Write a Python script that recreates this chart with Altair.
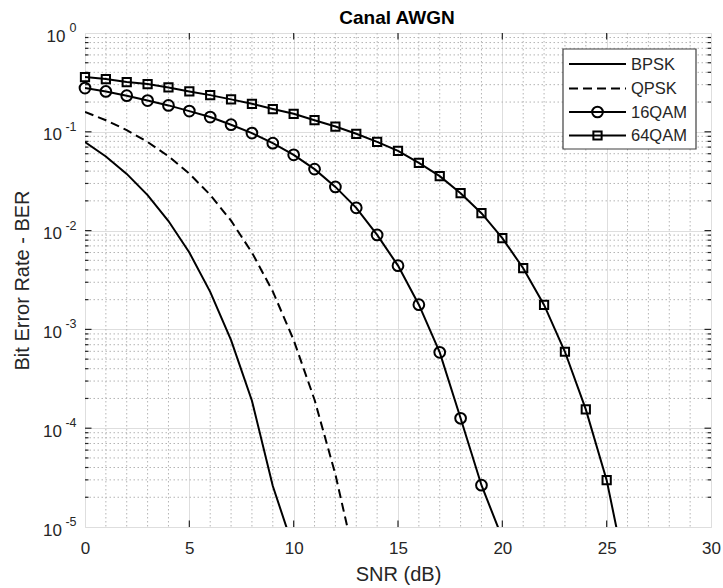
import altair as alt
import pandas as pd

# ---------------- data ----------------
snr_bpsk = [0, 1, 2, 3, 4, 5, 6, 7, 8, 9, 10]
ber_bpsk = [0.0786, 0.0563, 0.0375, 0.0229, 0.0125, 0.0060, 0.0024, 7.8e-4, 1.9e-4, 2.6e-5, 6.0e-6]

snr_qpsk = [0, 1, 2, 3, 4, 5, 6, 7, 8, 9, 10, 11, 12, 13]
ber_qpsk = [0.1587, 0.131, 0.104, 0.0789, 0.0565, 0.0377, 0.0230, 0.0126, 0.0060,
            0.00242, 7.8e-4, 1.94e-4, 3.4e-5, 4.0e-6]

snr_16qam = list(range(0, 21))
ber_16qam = [0.277, 0.256, 0.232, 0.207, 0.185, 0.162, 0.141, 0.118, 0.097, 0.0768,
             0.0585, 0.0419, 0.0277, 0.0170, 0.00904, 0.00442, 0.00178, 5.86e-4,
             1.26e-4, 2.65e-5, 7.7e-6]

snr_64qam = list(range(0, 27))
ber_64qam = [0.358, 0.342, 0.319, 0.304, 0.281, 0.256, 0.235, 0.213, 0.192, 0.170,
             0.152, 0.131, 0.113, 0.0955, 0.0792, 0.0642, 0.0485, 0.0356, 0.0239,
             0.0150, 0.00838, 0.00416, 0.00177, 5.94e-4, 1.55e-4, 2.98e-5, 2.8e-6]

series_labels = ["BPSK", "QPSK", "16QAM", "64QAM"]
title_text = "Canal AWGN"

x_major = [0, 5, 10, 15, 20, 25, 30]
x_minor = [1, 2, 3, 4, 6, 7, 8, 9, 11, 12, 13, 14, 16, 17, 18, 19,
           21, 22, 23, 24, 26, 27, 28, 29]
y_major = [1e-5, 1e-4, 1e-3, 1e-2, 1e-1, 1]
y_exp = ["-5", "-4", "-3", "-2", "-1", "0"]
y_minor = [m * d for d in [1e-5, 1e-4, 1e-3, 1e-2, 1e-1] for m in range(2, 10)]

# ---------------- layout / style ----------------
W, H = 626, 494
FONT = "Liberation Sans"
INK = "#262626"

xscale = alt.Scale(domain=[0, 30], nice=False, zero=False)
yscale = alt.Scale(type="log", domain=[1e-5, 1], nice=False)

x_axis = alt.Axis(values=x_major, title="SNR (dB)", grid=True, gridColor="#dedede",
                  gridWidth=1, ticks=False, domain=False, labelPadding=13,
                  labelFontSize=17, labelFont=FONT, labelColor=INK,
                  titleFontSize=20, titleFont=FONT, titleFontWeight="normal",
                  titleColor=INK, titlePadding=8, labelFlush=False)
y_axis = alt.Axis(values=y_major, title="Bit Error Rate - BER", grid=True,
                  gridColor="#dedede", gridWidth=1, ticks=False, domain=False,
                  labels=False, titleFontSize=20, titleFont=FONT,
                  titleFontWeight="normal", titleColor=INK, titlePadding=53)

X = alt.X("snr:Q", scale=xscale, axis=x_axis)
Y = alt.Y("ber:Q", scale=yscale, axis=y_axis)

layers = []

# minor grid
layers.append(alt.Chart(pd.DataFrame({"snr": x_minor})).mark_rule(
    color="#b4b4b4", strokeWidth=1, strokeDash=[1.5, 2.5]).encode(x=X))
layers.append(alt.Chart(pd.DataFrame({"ber": y_minor})).mark_rule(
    color="#b4b4b4", strokeWidth=1, strokeDash=[1.5, 2.5]).encode(y=Y))

# inward ticks (MATLAB style)
xt = pd.DataFrame({"snr": x_major[1:-1]})
layers.append(alt.Chart(xt).mark_rule(color=INK, strokeWidth=1.2).encode(
    x=X, y=alt.value(H), y2=alt.value(H - 6.5)))
layers.append(alt.Chart(xt).mark_rule(color=INK, strokeWidth=1.2).encode(
    x=X, y=alt.value(0), y2=alt.value(6.5)))
yt = pd.DataFrame({"ber": y_major[1:-1]})
ytm = pd.DataFrame({"ber": y_minor})
for df, ln in [(yt, 6.5), (ytm, 3.5)]:
    layers.append(alt.Chart(df).mark_rule(color=INK, strokeWidth=1.2).encode(
        y=Y, x=alt.value(0), x2=alt.value(ln)))
    layers.append(alt.Chart(df).mark_rule(color=INK, strokeWidth=1.2).encode(
        y=Y, x=alt.value(W), x2=alt.value(W - ln)))

# y tick labels as 10 with superscript exponent
ylab = pd.DataFrame({"ber": y_major, "exp": y_exp})
ylab_neg = ylab[ylab["exp"] != "0"]
ylab_zero = ylab[ylab["exp"] == "0"]
layers.append(alt.Chart(ylab_neg).mark_text(align="right", baseline="middle", font=FONT,
                                            fontSize=17, color=INK, dy=3.5).encode(
    y=Y, x=alt.value(-23), text=alt.value("10")))
layers.append(alt.Chart(ylab_zero).mark_text(align="right", baseline="middle", font=FONT,
                                             fontSize=17, color=INK, dy=3.5).encode(
    y=Y, x=alt.value(-19.5), text=alt.value("10")))
layers.append(alt.Chart(ylab).mark_text(align="right", baseline="middle", font=FONT,
                                        fontSize=12.5, color=INK, dy=-5).encode(
    y=Y, x=alt.value(-8.5), text="exp:N"))

# data lines
def line(xs, ys, **kw):
    df = pd.DataFrame({"snr": xs, "ber": ys})
    return alt.Chart(df).mark_line(color="black", strokeWidth=2, clip=True, **kw).encode(
        x=X, y=Y, order="snr:Q")

def pts(xs, ys, shape, size):
    df = pd.DataFrame({"snr": xs, "ber": ys})
    return alt.Chart(df).transform_filter("datum.ber >= 1e-5").mark_point(
        shape=shape, size=size, filled=False, color="black",
        strokeWidth=2, opacity=1, clip=False).encode(x=X, y=Y)

layers.append(line(snr_bpsk, ber_bpsk))
layers.append(line(snr_qpsk, ber_qpsk, strokeDash=[9, 5]))
layers.append(line(snr_16qam, ber_16qam))
layers.append(pts(snr_16qam, ber_16qam, "circle", 115))
layers.append(line(snr_64qam, ber_64qam))
layers.append(pts(snr_64qam, ber_64qam, "square", 68))

# legend box (drawn manually to get MATLAB line+marker samples)
one = pd.DataFrame({"k": [0]})
layers.append(alt.Chart(one).mark_rect(fill="white", stroke="#404040", strokeWidth=1.2).encode(
    x=alt.value(478), x2=alt.value(611), y=alt.value(16), y2=alt.value(116)))
rows_y = [31, 55.5, 79, 102.5]
dashes = [None, [9, 5], None, None]
shapes = [None, None, "circle", "square"]
sizes = [0, 0, 115, 68]
for lab, yy, dsh, shp, sz in zip(series_labels, rows_y, dashes, shapes, sizes):
    kw = {} if dsh is None else {"strokeDash": dsh}
    layers.append(alt.Chart(one).mark_rule(color="black", strokeWidth=2, **kw).encode(
        x=alt.value(484), x2=alt.value(541), y=alt.value(yy)))
    if shp is not None:
        layers.append(alt.Chart(one).mark_point(shape=shp, size=sz, filled=False, color="black",
                                                strokeWidth=2, opacity=1).encode(
            x=alt.value(512.5), y=alt.value(yy)))
    layers.append(alt.Chart(one).mark_text(align="left", baseline="middle", font=FONT,
                                           fontSize=16.5, color=INK).encode(
        x=alt.value(546), y=alt.value(yy + 0.5), text=alt.value(lab)))

# title
layers.append(alt.Chart(one).mark_text(align="center", baseline="alphabetic", font=FONT,
                                       fontSize=19, fontWeight="bold", color="black").encode(
    x=alt.value(W / 2 - 1), y=alt.value(-9.5), text=alt.value(title_text)))

chart = alt.layer(*layers).properties(
    width=W, height=H,
    autosize=alt.AutoSizeParams(type="none"),
    padding={"left": 85, "top": 33, "right": 12, "bottom": 61},
).configure_view(stroke=INK, strokeWidth=1.5).configure(background="white")

chart.save("out.html", embed_options={"renderer": "svg", "actions": False})
